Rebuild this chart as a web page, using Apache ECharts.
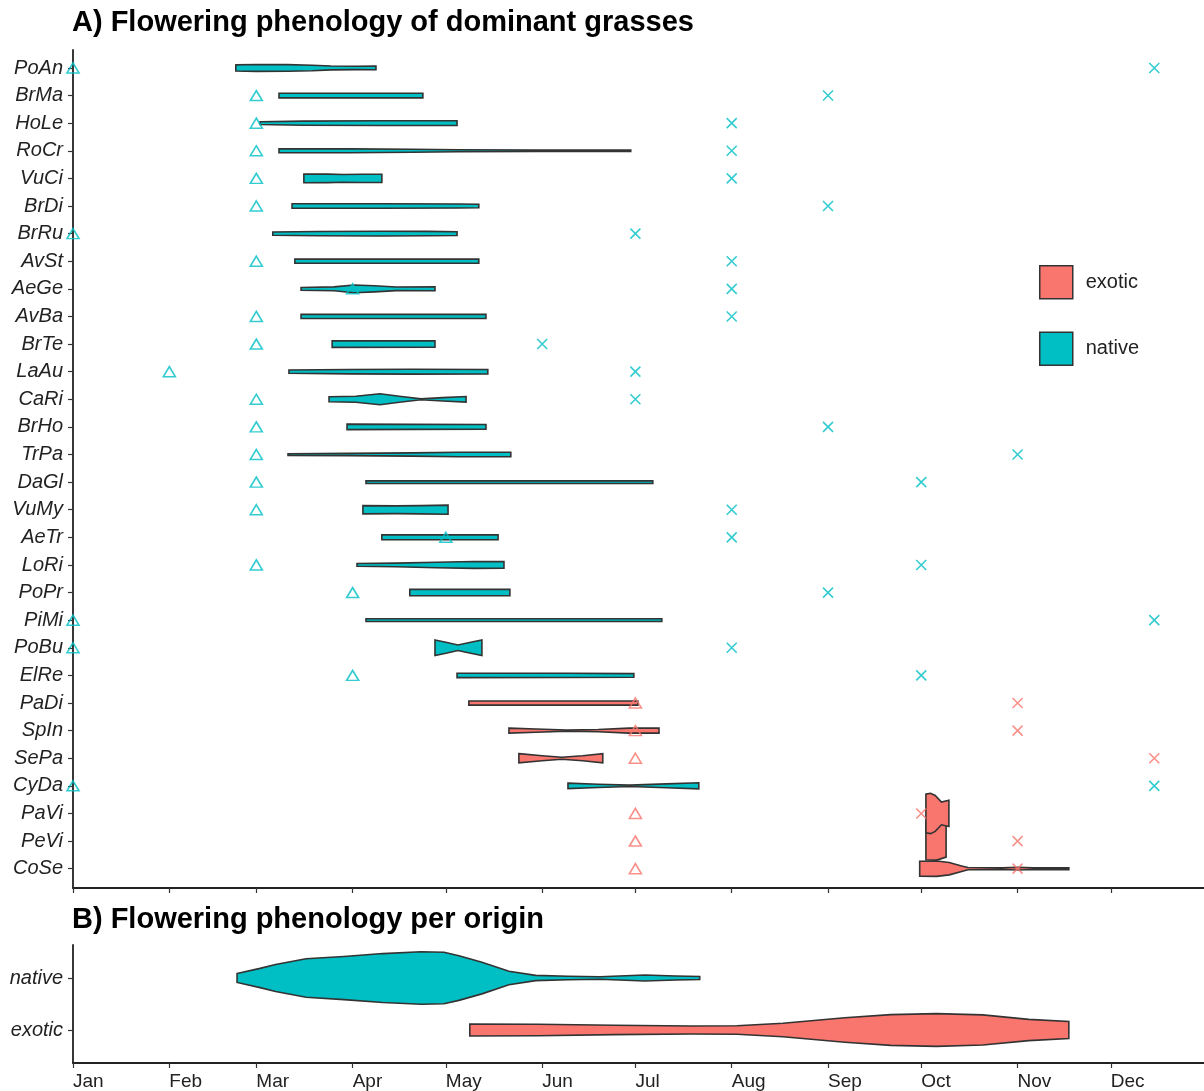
<!DOCTYPE html>
<html>
<head>
<meta charset="utf-8">
<script src="https://cdn.jsdelivr.net/npm/echarts@6/dist/echarts.min.js"></script>
<style>
  html, body { margin: 0; padding: 0; background: #fff; }
  #chart { width: 1204px; height: 1091px; }
</style>
</head>
<body>
<div id="chart"></div>
<script>
// species in plotting order, top to bottom
const species = ['PoAn', 'BrMa', 'HoLe', 'RoCr', 'VuCi', 'BrDi', 'BrRu', 'AvSt', 'AeGe', 'AvBa',
  'BrTe', 'LaAu', 'CaRi', 'BrHo', 'TrPa', 'DaGl', 'VuMy', 'AeTr', 'LoRi', 'PoPr',
  'PiMi', 'PoBu', 'ElRe', 'PaDi', 'SpIn', 'SePa', 'CyDa', 'PaVi', 'PeVi', 'CoSe']
const origin = ['native', 'native', 'native', 'native', 'native', 'native', 'native', 'native', 'native', 'native',
  'native', 'native', 'native', 'native', 'native', 'native', 'native', 'native', 'native', 'native',
  'native', 'native', 'native', 'exotic', 'exotic', 'exotic', 'native', 'exotic', 'exotic', 'exotic']

// day of year of the triangle and cross marks
const triangleDay = [1, 60, 60, 60, 60, 60, 1, 60, 91, 60,
  60, 32, 60, 60, 60, 60, 60, 121, 60, 91,
  1, 1, 91, 182, 182, 182, 1, 182, 182, 182]
const crossDay = [349, 244, 213, 213, 213, 244, 182, 213, 213, 213,
  152, 182, 182, 244, 305, 274, 213, 213, 274, 244,
  349, 213, 274, 305, 305, 349, 349, 274, 305, 305]

// violin outlines: [day of year, violin width in category units]
const violins = [
  [[53.4, 0.22], [60, 0.25], [70, 0.24], [78, 0.2], [84, 0.14], [92, 0.12], [98.5, 0.13]],
  [[67.3, 0.17], [90, 0.17], [113.6, 0.17]],
  [[61.2, 0.1], [75, 0.15], [100, 0.17], [124.6, 0.17]],
  [[67.3, 0.14], [90, 0.14], [110, 0.11], [125, 0.07], [150, 0.05], [180.5, 0.05]],
  [[75.3, 0.32], [83, 0.31], [88, 0.28], [94, 0.3], [100.4, 0.3]],
  [[71.5, 0.16], [100, 0.16], [125, 0.15], [131.6, 0.13]],
  [[65.3, 0.12], [80, 0.15], [100, 0.17], [115, 0.16], [124.6, 0.14]],
  [[72.4, 0.15], [131.6, 0.15]],
  [[74.4, 0.1], [85, 0.14], [91.4, 0.28], [98, 0.22], [105, 0.13], [117.5, 0.14]],
  [[74.4, 0.15], [133.9, 0.15]],
  [[84.4, 0.24], [117.5, 0.23]],
  [[70.5, 0.12], [90, 0.16], [110, 0.18], [134.5, 0.16]],
  [[83.4, 0.18], [92, 0.22], [99.8, 0.4], [106, 0.22], [113, 0.03], [120, 0.12], [127.5, 0.2]],
  [[89.2, 0.2], [110, 0.18], [133.9, 0.17]],
  [[70.2, 0.06], [90, 0.08], [110, 0.12], [125, 0.16], [141.9, 0.16]],
  [[95.3, 0.1], [187.6, 0.09]],
  [[94.3, 0.3], [105, 0.28], [113, 0.3], [121.7, 0.33]],
  [[100.4, 0.18], [137.8, 0.18]],
  [[92.4, 0.1], [105, 0.13], [118, 0.2], [130, 0.25], [139.7, 0.24]],
  [[109.4, 0.23], [141.6, 0.23]],
  [[95.3, 0.1], [190.5, 0.1]],
  [[117.5, 0.56], [121, 0.4], [124.9, 0.2], [129, 0.4], [132.6, 0.56]],
  [[124.6, 0.16], [160, 0.15], [181.5, 0.13]],
  [[128.4, 0.15], [182.8, 0.15]],
  [[141.3, 0.18], [150, 0.12], [160, 0.04], [170, 0.08], [180, 0.18], [189.6, 0.18]],
  [[144.5, 0.33], [152, 0.18], [158.3, 0.07], [165, 0.18], [171.5, 0.33]],
  [[160.3, 0.2], [170, 0.12], [180.2, 0.05], [192, 0.14], [202.4, 0.22]],
  [[275.5, 1.4], [277, 1.46], [278.5, 1.3], [280.5, 0.82], [282.9, 0.95]],
  [[275.5, 1.36], [279, 1.38], [282, 1.16]],
  [[273.5, 0.54], [279, 0.56], [283, 0.45], [287, 0.2], [289, 0.08], [300, 0.06], [305, 0.1], [310, 0.06], [321.5, 0.07]]
]

// panel B
const origins = ['native', 'exotic']
const originViolins = [
  [[53.8, 0.17], [61.2, 0.37], [66.2, 0.52], [76, 0.74], [88.2, 0.83], [100.7, 0.94], [113, 1.01],
    [120.4, 0.99], [125.2, 0.86], [132.6, 0.61], [141.3, 0.26], [149.9, 0.1], [160.3, 0.065],
    [170.6, 0.05], [185, 0.115], [195, 0.077], [202.7, 0.06]],
  [[128.7, 0.23], [150.5, 0.22], [175.2, 0.18], [199.9, 0.155], [214.7, 0.165], [229.5, 0.26],
    [249.4, 0.47], [264.2, 0.59], [278.9, 0.63], [293.8, 0.58], [308.6, 0.41], [321.5, 0.33]]
]

const monthStarts = [1, 32, 60, 91, 121, 152, 182, 213, 244, 274, 305, 335]
const monthNames = ['Jan', 'Feb', 'Mar', 'Apr', 'May', 'Jun', 'Jul', 'Aug', 'Sep', 'Oct', 'Nov', 'Dec']

const colors = { native: '#00BFC4', exotic: '#F8766D' }
const font = 'Liberation Sans, Arial, sans-serif'

const violinRender = function(shapes, fill) {
  return function(params, api) {
    const i = api.value(1)
    const unit = Math.abs(api.size([0, 1])[1])
    const upper = []
    const lower = []
    shapes[i].forEach(function(p) {
      const c = api.coord([p[0], i])
      upper.push([c[0], c[1] - p[1] * unit / 2])
      lower.push([c[0], c[1] + p[1] * unit / 2])
    })
    return {
      type: 'polygon',
      shape: { points: upper.concat(lower.reverse()) },
      style: { fill: fill, stroke: '#333', lineWidth: 1.6 }
    }
  }
}

// draw from bottom to top so upper violins overlap lower ones like in ggplot
const violinData = function(org) {
  const out = []
  for (let i = species.length - 1; i >= 0; i--) {
    if (origin[i] === org) out.push([violins[i][0][0], i])
  }
  return out
}

const markData = function(days, org) {
  const out = []
  days.forEach(function(d, i) {
    if (origin[i] === org) out.push([d, i])
  })
  return out
}

const xAxisBase = function(grid, showLabel) {
  return {
    type: 'value',
    gridIndex: grid,
    min: 1,
    max: 365,
    splitLine: { show: false },
    axisLine: { onZero: false, lineStyle: { color: '#222', width: 1.8 } },
    axisTick: { customValues: monthStarts, length: 5, lineStyle: { color: '#333', width: 1.2 } },
    axisLabel: {
      show: showLabel,
      customValues: monthStarts,
      formatter: function(v) { return monthNames[monthStarts.indexOf(v)] },
      align: 'left',
      margin: 9,
      fontSize: 19,
      color: '#222',
      fontFamily: font
    }
  }
}

const yAxisBase = function(grid, names, min, max) {
  const idx = names.map(function(_, i) { return i })
  return {
    type: 'value',
    gridIndex: grid,
    inverse: true,
    min: min,
    max: max,
    splitLine: { show: false },
    axisLine: { onZero: false, lineStyle: { color: '#222', width: 1.8 } },
    axisTick: { customValues: idx, length: 5, lineStyle: { color: '#333', width: 1.2 } },
    axisLabel: {
      customValues: idx,
      formatter: function(v) { return names[v] },
      margin: 10,
      fontSize: 20,
      fontStyle: 'italic',
      color: '#222',
      fontFamily: font
    }
  }
}

const chart = echarts.init(document.getElementById('chart'))

const series = []
;['exotic', 'native'].forEach(function(org) {
  series.push({
    name: org,
    type: 'custom',
    xAxisIndex: 0,
    yAxisIndex: 0,
    itemStyle: { color: colors[org] },
    renderItem: violinRender(violins, colors[org]),
    data: violinData(org),
    z: 2
  })
})
origins.forEach(function(org, k) {
  series.push({
    name: org,
    type: 'custom',
    xAxisIndex: 1,
    yAxisIndex: 1,
    itemStyle: { color: colors[org] },
    renderItem: violinRender(originViolins, colors[org]),
    data: [[originViolins[k][0][0], k]],
    z: 2
  })
})
;['exotic', 'native'].forEach(function(org) {
  series.push({
    type: 'scatter',
    xAxisIndex: 0,
    yAxisIndex: 0,
    symbol: 'triangle',
    symbolSize: [12, 10],
    itemStyle: { color: 'rgba(0,0,0,0)', borderColor: colors[org], borderWidth: 1.6 },
    data: markData(triangleDay, org),
    z: 5
  })
  series.push({
    type: 'scatter',
    xAxisIndex: 0,
    yAxisIndex: 0,
    symbol: 'path://M0,0L10,10M10,0L0,10',
    symbolSize: 10,
    itemStyle: { color: 'rgba(0,0,0,0)', borderColor: colors[org], borderWidth: 1.6 },
    data: markData(crossDay, org),
    z: 5
  })
})

chart.setOption({
  animation: false,
  backgroundColor: '#fff',
  title: [
    {
      text: 'A) Flowering phenology of dominant grasses',
      left: 67,
      top: 3,
      textStyle: { fontSize: 29, fontWeight: 'bold', color: '#000', fontFamily: font }
    },
    {
      text: 'B) Flowering phenology per origin',
      left: 67,
      top: 900,
      textStyle: { fontSize: 29, fontWeight: 'bold', color: '#000', fontFamily: font }
    }
  ],
  legend: {
    data: ['exotic', 'native'],
    orient: 'vertical',
    left: 1034,
    top: 260,
    icon: 'rect',
    itemWidth: 33,
    itemHeight: 33,
    itemGap: 32,
    itemStyle: { borderColor: '#333', borderWidth: 1.5 },
    textStyle: { fontSize: 20, color: '#222', fontFamily: font, padding: [0, 0, 0, 8] }
  },
  grid: [
    { left: 73, right: 0, top: 50, height: 838 },
    { left: 73, right: 0, top: 945, height: 118 }
  ],
  xAxis: [xAxisBase(0, false), xAxisBase(1, true)],
  yAxis: [
    yAxisBase(0, species, -0.65, 29.7),
    yAxisBase(1, origins, -0.635, 1.635)
  ],
  series: series
})
</script>
</body>
</html>
